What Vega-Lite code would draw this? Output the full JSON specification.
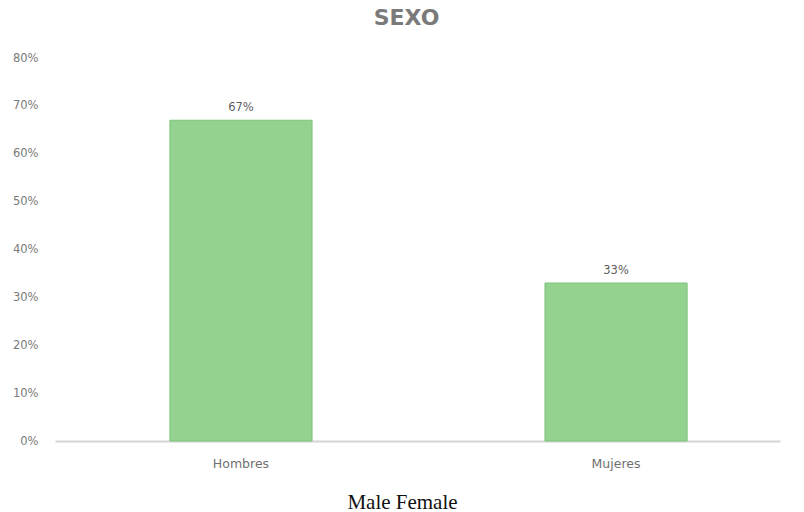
{
  "$schema": "https://vega.github.io/schema/vega-lite/v6.json",
  "width": 725,
  "height": 383,
  "autosize": {"type": "none"},
  "padding": {"left": 55, "top": 58, "right": 24, "bottom": 71},
  "background": "white",
  "title": {
    "text": "SEXO",
    "font": "DejaVu Sans",
    "fontSize": 22,
    "fontWeight": "bold",
    "color": "#7a7a7a",
    "anchor": "middle",
    "dx": -11,
    "offset": 22
  },
  "config": {"view": {"stroke": null}},
  "data": {"values": [
    {"sexo": "Hombres", "pct": 0.67},
    {"sexo": "Mujeres", "pct": 0.33}
  ]},
  "encoding": {
    "x": {
      "field": "sexo", "type": "nominal", "sort": null,
      "scale": {"paddingInner": 0.621, "paddingOuter": 0.277, "align": 0.553},
      "axis": {
        "labelAngle": 0, "labelFont": "DejaVu Sans", "labelFontSize": 12.5, "labelColor": "#707070",
        "labelPadding": 16, "ticks": false, "domainColor": "#d4d4d4", "domainWidth": 2,
        "title": "Male Female", "titleFont": "Liberation Serif", "titleFontSize": 21,
        "titleFontWeight": "normal", "titleColor": "#111111",
        "titleX": 347, "titleY": 67, "titleBaseline": "alphabetic", "titleAlign": "center"
      }
    },
    "y": {
      "field": "pct", "type": "quantitative",
      "scale": {"domain": [0, 0.8]},
      "axis": {
        "values": [0, 0.1, 0.2, 0.3, 0.4, 0.5, 0.6, 0.7, 0.8],
        "format": ".0%", "grid": false, "domain": false, "ticks": false,
        "labelFont": "DejaVu Sans", "labelFontSize": 11.5, "labelColor": "#7a7a7a",
        "labelPadding": 17, "title": null
      }
    }
  },
  "layer": [
    {"mark": {"type": "bar", "fill": "#93d38f", "stroke": "#7cc47a", "strokeWidth": 1}},
    {"mark": {"type": "text", "dy": -12, "font": "DejaVu Sans", "fontSize": 11.5, "color": "#606060"},
     "encoding": {"text": {"field": "pct", "type": "quantitative", "format": ".0%"}}}
  ]
}
